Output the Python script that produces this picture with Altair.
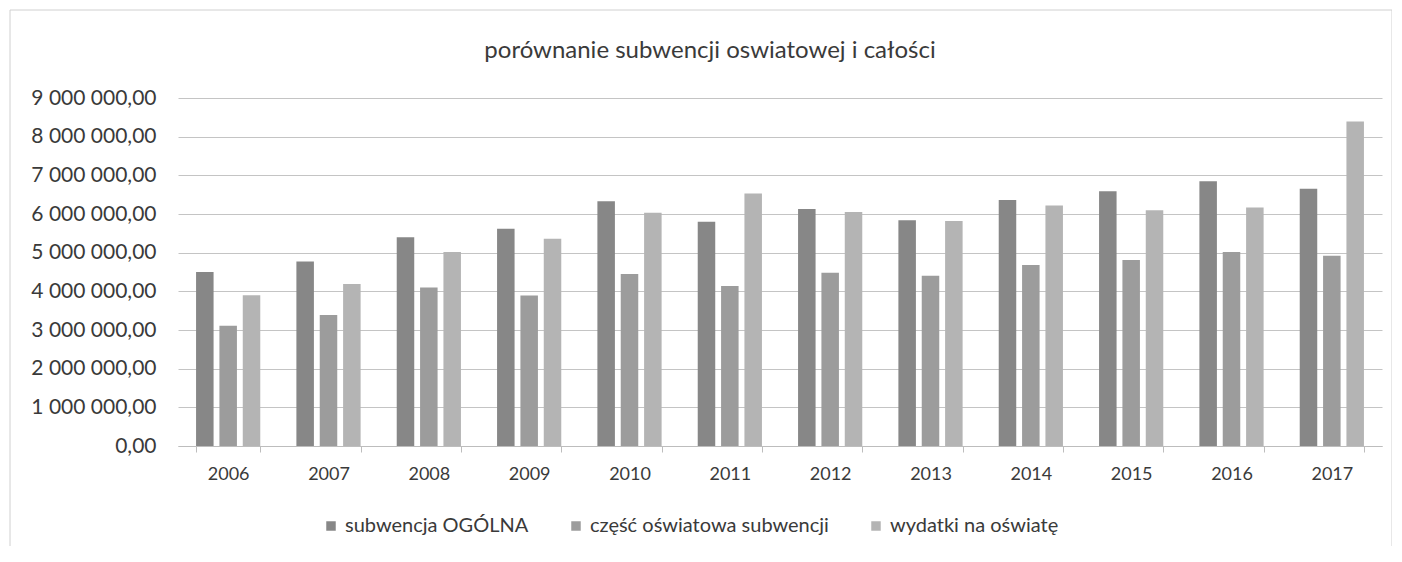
import altair as alt
import pandas as pd

years = ["2006", "2007", "2008", "2009", "2010", "2011", "2012", "2013", "2014", "2015", "2016", "2017"]
series_names = ["subwencja OGÓLNA", "część oświatowa subwencji", "wydatki na oświatę"]
ogolna = [4500000, 4770000, 5400000, 5620000, 6330000, 5800000, 6130000, 5840000, 6360000, 6590000, 6850000, 6650000]
czesc = [3110000, 3390000, 4100000, 3890000, 4450000, 4140000, 4480000, 4400000, 4680000, 4810000, 5020000, 4920000]
wydatki = [3900000, 4190000, 5020000, 5360000, 6030000, 6530000, 6050000, 5820000, 6220000, 6100000, 6170000, 8390000]
colors = ["#878787", "#9c9c9c", "#b4b4b4"]
title_text = "porównanie subwencji oswiatowej i całości"

rows = []
for i, y in enumerate(years):
    for s, vals in zip(series_names, [ogolna, czesc, wydatki]):
        rows.append({"rok": y, "seria": s, "wartosc": vals[i]})
df = pd.DataFrame(rows)

FONT = "Lato"
TXT = "#3a3a3a"

bars = alt.Chart(df).mark_bar().encode(
    x=alt.X("rok:N", sort=years, title=None,
            scale=alt.Scale(paddingInner=0.36, paddingOuter=0.18),
            axis=alt.Axis(labelAngle=0, labelFontSize=18, labelColor=TXT,
                          labelPadding=13, tickBand="extent", tickSize=6,
                          tickColor="#bdbdbd", domainColor="#bdbdbd", grid=False)),
    xOffset=alt.XOffset("seria:N", sort=series_names,
                        scale=alt.Scale(paddingInner=0.25)),
    y=alt.Y("wartosc:Q", title=None,
            scale=alt.Scale(domain=[0, 9000000], nice=False),
            axis=alt.Axis(values=[i * 1000000 for i in range(10)], format=",.2f",
                          labelFontSize=21, labelColor=TXT, labelPadding=22,
                          domain=False, ticks=False, gridColor="#c4c4c4", gridWidth=1)),
    color=alt.Color("seria:N", sort=series_names,
                    scale=alt.Scale(domain=series_names, range=colors),
                    legend=alt.Legend(title=None, orient="none", direction="horizontal",
                                      legendX=143, legendY=418, labelFontSize=20,
                                      labelColor=TXT, symbolType="square",
                                      symbolSize=90, symbolStrokeWidth=0,
                                      columnPadding=37, labelOffset=4, labelLimit=400)),
)

frame = alt.Chart(pd.DataFrame({"a": [0]})).mark_rect(
    fill=None, stroke="#d0d0d0", strokeWidth=1
).encode(
    x=alt.value(-168), x2=alt.value(1214), y=alt.value(-88), y2=alt.value(470)
)

title = alt.Chart(pd.DataFrame({"t": [title_text]})).mark_text(
    font=FONT, fontSize=24, color=TXT, align="center", baseline="alphabetic"
).encode(
    text="t:N", x=alt.value(532), y=alt.value(-40)
)

chart = alt.layer(frame, bars, title).properties(
    width=1204, height=348,
    autosize=alt.AutoSizeParams(type="none"),
    padding={"left": 170, "top": 90, "right": 10, "bottom": 100},
).configure(
    font=FONT,
    locale={"number": {"decimal": ",", "thousands": " ", "grouping": [3], "currency": ["", " zł"]}},
).configure_view(stroke=None).configure_axis(labelFont=FONT).configure_legend(labelFont=FONT)

chart.save("out.html", embed_options={"renderer": "svg", "actions": False})
